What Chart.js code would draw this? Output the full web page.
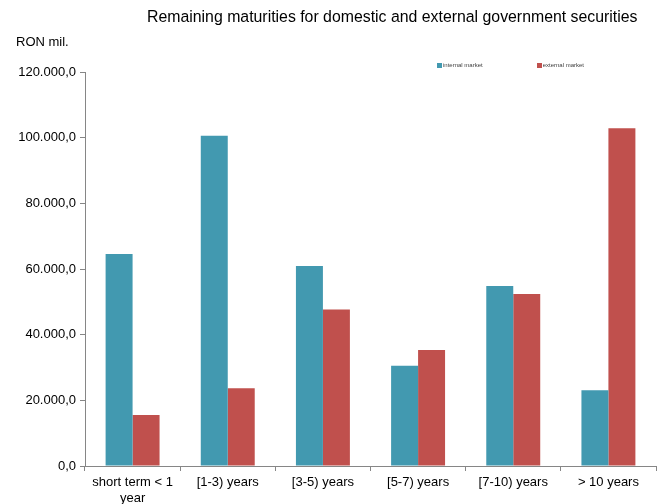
<!DOCTYPE html>
<html>
<head>
<meta charset="utf-8">
<script src="https://cdn.jsdelivr.net/npm/chart.js@4.4.0/dist/chart.umd.min.js"></script>
<style>
  body { margin: 0; background: #fff; font-family: "Liberation Sans", Arial, sans-serif; }
  .wrap { position: relative; width: 665px; height: 504px; }
  .title { position: absolute; left: 147px; top: 8px; font-size: 15.85px; color: #000; white-space: nowrap; }
  .unit { position: absolute; left: 16px; top: 34px; font-size: 13px; color: #000; }
  #legend-container { position: absolute; left: 437px; top: 62px; }
  #legend-container ul { list-style: none; margin: 0; padding: 0; display: flex; }
  #legend-container li { display: flex; align-items: center; font-size: 6px; color: #404040; margin-right: 54px; }
  #legend-container li span.box { display: inline-block; width: 5px; height: 5px; margin-right: 1px; }
</style>
</head>
<body>
<div class="wrap">
  <canvas id="myChart" width="665" height="504"></canvas>
  <div class="title">Remaining maturities for domestic and external government securities</div>
  <div class="unit">RON mil.</div>
  <div id="legend-container"></div>
</div>
<script>
// data
const categories = [["short term < 1", "year"], "[1-3) years", "[3-5) years", "[5-7) years", "[7-10) years", "> 10 years"];
const internalMarket = [64600, 100600, 60900, 30500, 54800, 23100];
const externalMarket = [15500, 23700, 47700, 35300, 52400, 102900];
const yTicks = [0, 20000, 40000, 60000, 80000, 100000, 120000];

// 120000 -> "120.000,0"
function fmt(v) {
  const s = Math.round(v).toString().replace(/\B(?=(\d{3})+(?!\d))/g, ".");
  return s + ",0";
}

// html legend
const htmlLegendPlugin = {
  id: "htmlLegend",
  afterUpdate(chart, args, options) {
    const box = document.getElementById(options.containerID);
    box.innerHTML = "";
    const ul = document.createElement("ul");
    const items = chart.options.plugins.legend.labels.generateLabels(chart);
    items.forEach((item) => {
      const li = document.createElement("li");
      const sq = document.createElement("span");
      sq.className = "box";
      sq.style.background = item.fillStyle;
      li.appendChild(sq);
      li.appendChild(document.createTextNode(item.text));
      ul.appendChild(li);
    });
    box.appendChild(ul);
  },
};

const axisColor = "#868686";
const font = { family: "'Liberation Sans', Arial, sans-serif", size: 13 };

const ctx = document.getElementById("myChart").getContext("2d");
new Chart(ctx, {
  type: "bar",
  data: {
    labels: categories,
    datasets: [
      { label: "internal market", data: internalMarket, backgroundColor: "#4299B0" },
      { label: "external market", data: externalMarket, backgroundColor: "#C0504D" },
    ],
  },
  options: {
    responsive: false,
    animation: false,
    devicePixelRatio: 1,
    layout: { padding: { top: 72, right: 9, bottom: 0, left: 0 } },
    datasets: { bar: { categoryPercentage: 0.567, barPercentage: 1 } },
    plugins: {
      htmlLegend: { containerID: "legend-container" },
      legend: { display: false },
      title: { display: false },
      tooltip: { enabled: false },
    },
    scales: {
      x: {
        grid: { drawOnChartArea: false, offset: true, tickLength: 5, color: axisColor },
        border: { color: axisColor, width: 1 },
        ticks: { color: "#000", font: font, padding: 4, maxRotation: 0, autoSkip: false },
        afterFit: (s) => { s.height = 38; },
      },
      y: {
        min: 0,
        max: 120000,
        grid: { drawOnChartArea: false, tickLength: 5, color: axisColor },
        border: { color: axisColor, width: 1 },
        afterBuildTicks: (s) => { s.ticks = yTicks.map((v) => ({ value: v })); },
        ticks: { color: "#000", font: font, padding: 4, callback: (v) => fmt(v) },
        afterFit: (s) => { s.width = 85; },
      },
    },
  },
  plugins: [htmlLegendPlugin],
});
</script>
</body>
</html>
